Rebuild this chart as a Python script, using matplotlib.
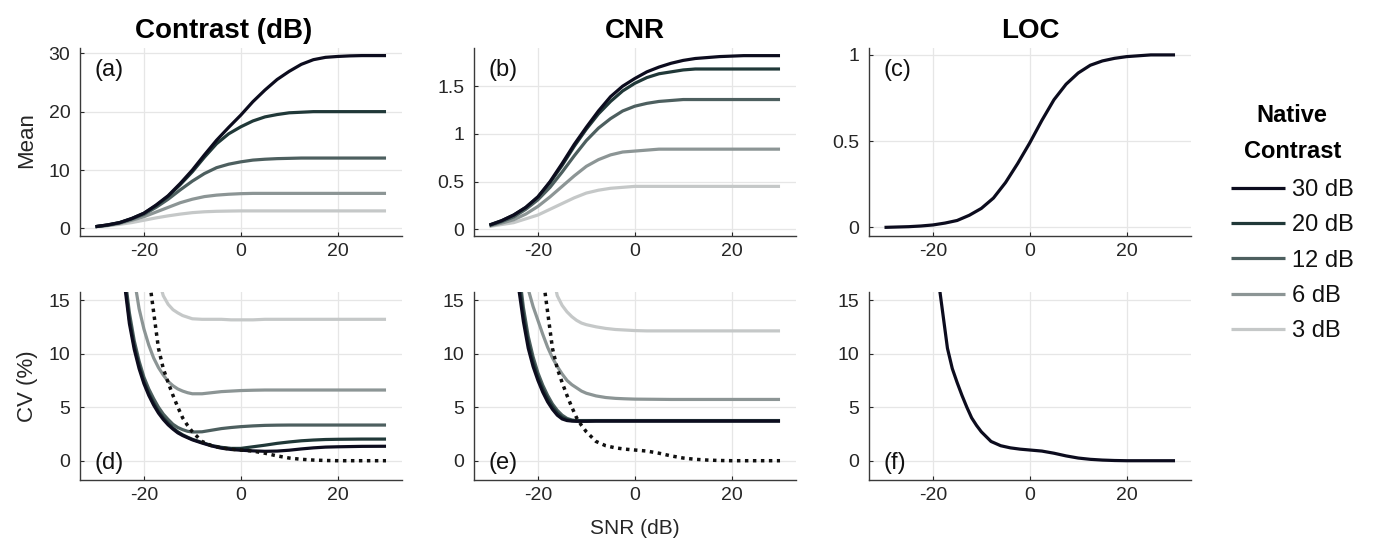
import matplotlib
matplotlib.use("Agg")
import matplotlib.pyplot as plt
import numpy as np

plt.rcParams['font.family'] = ['Liberation Sans', 'DejaVu Sans']
plt.rcParams['axes.unicode_minus'] = False

# ---- data ----
native_labels = ['30 dB', '20 dB', '12 dB', '6 dB', '3 dB']
native_colors = ['#0c0c1e', '#203838', '#4d5f5f', '#8c9595', '#c5c8c8']

snr_mean = [-30, -27.5, -25, -22.5, -20, -17.5, -15, -12.5, -10, -7.5, -5, -2.5, 0,
            2.5, 5, 7.5, 10, 12.5, 15, 17.5, 20, 22.5, 25, 27.5, 30]

contrast_30 = [0.3, 0.6, 1.0, 1.7, 2.6, 4.0, 5.6, 7.7, 10.0, 12.6, 15.1, 17.3, 19.4,
               21.7, 23.7, 25.5, 26.9, 28.1, 28.9, 29.3, 29.45, 29.55, 29.6, 29.6, 29.6]
contrast_20 = [0.3, 0.6, 1.0, 1.7, 2.6, 3.9, 5.5, 7.5, 9.7, 12.2, 14.5, 16.2, 17.4,
               18.4, 19.1, 19.5, 19.8, 19.9, 20.0, 20.0, 20.0, 20.0, 20.0, 20.0, 20.0]
contrast_12 = [0.3, 0.55, 0.95, 1.6, 2.4, 3.6, 5.0, 6.6, 8.1, 9.4, 10.4, 11.0, 11.4,
               11.7, 11.85, 11.95, 12.0, 12.05, 12.05, 12.05, 12.05, 12.05, 12.05, 12.05, 12.05]
contrast_6 = [0.3, 0.5, 0.85, 1.4, 2.0, 2.8, 3.6, 4.4, 5.0, 5.45, 5.7, 5.85, 5.95,
              6.0, 6.0, 6.0, 6.0, 6.0, 6.0, 6.0, 6.0, 6.0, 6.0, 6.0, 6.0]
contrast_3 = [0.3, 0.45, 0.7, 1.0, 1.4, 1.8, 2.15, 2.45, 2.7, 2.85, 2.93, 2.97, 3.0,
              3.0, 3.0, 3.0, 3.0, 3.0, 3.0, 3.0, 3.0, 3.0, 3.0, 3.0, 3.0]

cnr_30 = [0.045, 0.09, 0.15, 0.23, 0.34, 0.50, 0.69, 0.89, 1.07, 1.24, 1.39, 1.50, 1.58,
          1.65, 1.70, 1.74, 1.77, 1.79, 1.80, 1.81, 1.815, 1.82, 1.82, 1.82, 1.82]
cnr_20 = [0.045, 0.09, 0.15, 0.23, 0.34, 0.49, 0.67, 0.87, 1.05, 1.21, 1.34, 1.45, 1.53,
          1.59, 1.63, 1.65, 1.67, 1.68, 1.68, 1.68, 1.68, 1.68, 1.68, 1.68, 1.68]
cnr_12 = [0.04, 0.08, 0.13, 0.21, 0.31, 0.44, 0.60, 0.77, 0.93, 1.06, 1.16, 1.24, 1.29,
          1.32, 1.34, 1.35, 1.36, 1.36, 1.36, 1.36, 1.36, 1.36, 1.36, 1.36, 1.36]
cnr_6 = [0.035, 0.065, 0.10, 0.16, 0.24, 0.34, 0.45, 0.56, 0.66, 0.73, 0.78, 0.81, 0.82,
         0.83, 0.84, 0.84, 0.84, 0.84, 0.84, 0.84, 0.84, 0.84, 0.84, 0.84, 0.84]
cnr_3 = [0.03, 0.05, 0.07, 0.11, 0.15, 0.21, 0.27, 0.33, 0.38, 0.41, 0.43, 0.44, 0.45,
         0.45, 0.45, 0.45, 0.45, 0.45, 0.45, 0.45, 0.45, 0.45, 0.45, 0.45, 0.45]

loc_mean = [0.0, 0.002, 0.004, 0.008, 0.014, 0.025, 0.04, 0.07, 0.11, 0.17, 0.26, 0.37, 0.49,
            0.62, 0.74, 0.83, 0.895, 0.94, 0.965, 0.98, 0.99, 0.995, 1.0, 1.0, 1.0]

snr_cv = [-25, -24, -23, -22, -21, -20, -19, -18, -17, -16, -15, -14, -13, -12, -11, -10,
          -8, -6, -4, -2, 0, 2.5, 5, 7.5, 10, 12.5, 15, 17.5, 20, 25, 30]

cv_contrast_30 = [21, 16.5, 12.8, 10.4, 8.6, 7.2, 6.1, 5.2, 4.45, 3.85, 3.35, 2.95, 2.6, 2.35, 2.15, 1.95,
                  1.65, 1.38, 1.17, 1.05, 0.98, 0.92, 0.88, 0.9, 0.98, 1.1, 1.2, 1.27, 1.3, 1.34, 1.35]
cv_contrast_20 = [22, 17, 13.2, 10.7, 8.9, 7.4, 6.3, 5.4, 4.6, 4.0, 3.5, 3.05, 2.7, 2.42, 2.2, 2.0,
                  1.7, 1.42, 1.25, 1.15, 1.15, 1.3, 1.45, 1.62, 1.75, 1.86, 1.93, 1.98, 2.0, 2.02, 2.02]
cv_contrast_12 = [23, 17.5, 13.8, 11.2, 9.3, 7.8, 6.7, 5.8, 5.0, 4.35, 3.85, 3.4, 3.1, 2.9, 2.75, 2.68,
                  2.7, 2.85, 3.0, 3.1, 3.18, 3.25, 3.3, 3.32, 3.33, 3.33, 3.33, 3.33, 3.33, 3.33, 3.33]
cv_contrast_6 = [28, 23, 19.5, 17, 14.2, 12.3, 10.8, 9.6, 8.7, 8.0, 7.4, 7.0, 6.7, 6.5, 6.35, 6.25,
                 6.25, 6.35, 6.45, 6.5, 6.55, 6.58, 6.6, 6.6, 6.6, 6.6, 6.6, 6.6, 6.6, 6.6, 6.6]
cv_contrast_3 = [40, 35, 30, 26, 23, 21, 19.5, 18.5, 17.0, 15.4, 14.6, 14.1, 13.8, 13.55, 13.4, 13.25,
                 13.2, 13.2, 13.2, 13.15, 13.15, 13.15, 13.2, 13.2, 13.2, 13.2, 13.2, 13.2, 13.2, 13.2, 13.2]

cv_cnr_30 = [21, 16.2, 13.0, 10.5, 8.8, 7.5, 6.4, 5.5, 4.8, 4.25, 3.9, 3.75, 3.7, 3.68, 3.68, 3.68,
             3.7, 3.7, 3.7, 3.7, 3.7, 3.7, 3.7, 3.7, 3.7, 3.7, 3.7, 3.7, 3.7, 3.7, 3.7]
cv_cnr_20 = [22, 17, 13.6, 11.0, 9.2, 7.8, 6.7, 5.8, 5.05, 4.45, 4.05, 3.85, 3.75, 3.72, 3.72, 3.72,
             3.72, 3.72, 3.72, 3.72, 3.72, 3.72, 3.72, 3.72, 3.72, 3.72, 3.72, 3.72, 3.72, 3.72, 3.72]
cv_cnr_12 = [23, 18, 14.3, 11.6, 9.7, 8.2, 7.05, 6.1, 5.3, 4.7, 4.25, 3.95, 3.8, 3.75, 3.75, 3.75,
             3.75, 3.75, 3.75, 3.75, 3.75, 3.75, 3.75, 3.75, 3.75, 3.75, 3.75, 3.75, 3.75, 3.75, 3.75]
cv_cnr_6 = [28, 23, 19, 16, 14.4, 13.1, 11.8, 10.6, 9.6, 8.8, 8.1, 7.5, 7.1, 6.8, 6.5, 6.3,
            6.05, 5.9, 5.82, 5.78, 5.75, 5.74, 5.73, 5.72, 5.72, 5.72, 5.72, 5.72, 5.72, 5.72, 5.72]
cv_cnr_3 = [40, 35, 30, 26, 23, 21, 19.5, 18.5, 17.5, 15.4, 14.5, 13.9, 13.45, 13.1, 12.85, 12.7,
            12.5, 12.35, 12.25, 12.2, 12.15, 12.12, 12.12, 12.12, 12.12, 12.12, 12.12, 12.12, 12.12, 12.12, 12.12]

cv_loc = [45, 38, 32, 27, 23, 20, 17.3, 13.9, 10.5, 8.6, 7.3, 6.1, 5.0, 4.0, 3.3, 2.7,
          1.8, 1.4, 1.2, 1.08, 1.0, 0.9, 0.7, 0.45, 0.25, 0.13, 0.06, 0.02, 0.0, 0.0, 0.0]

contrast_means = [contrast_30, contrast_20, contrast_12, contrast_6, contrast_3]
cnr_means = [cnr_30, cnr_20, cnr_12, cnr_6, cnr_3]
contrast_cvs = [cv_contrast_30, cv_contrast_20, cv_contrast_12, cv_contrast_6, cv_contrast_3]
cnr_cvs = [cv_cnr_30, cv_cnr_20, cv_cnr_12, cv_cnr_6, cv_cnr_3]

# ---- layout ----
W, H = 1374, 548
fig = plt.figure(figsize=(W / 100, H / 100), dpi=100)

col_left = [80, 474, 869]
ax_w = 322
row_top = [48, 292]
ax_h = 188

def make_ax(col, row):
  l = col_left[col] / W
  b = 1 - (row_top[row] + ax_h) / H
  return fig.add_axes([l, b, ax_w / W, ax_h / H])

axes = [[make_ax(c, r) for c in range(3)] for r in range(2)]

LW = 2.3
tick_color = '#262626'

def style(ax, ylim, yticks, ylabels, letter):
  ax.set_xlim(-33.2, 33.3)
  ax.set_ylim(*ylim)
  ax.set_xticks([-20, 0, 20])
  ax.set_yticks(yticks)
  ax.set_yticklabels(ylabels)
  ax.grid(True, color='#e6e6e6', lw=0.9)
  ax.set_axisbelow(True)
  for s in ['top', 'right']:
    ax.spines[s].set_visible(False)
  for s in ['left', 'bottom']:
    ax.spines[s].set_color('#3a3a3a')
    ax.spines[s].set_linewidth(1.0)
  ax.tick_params(direction='in', length=3, width=0.8, colors=tick_color, labelsize=14)
  ax.tick_params(axis='x', pad=5)
  ax.tick_params(axis='y', pad=7)
  ax.text(0.045, 0.885 if letter in 'abc' else 0.09, '(' + letter + ')',
          transform=ax.transAxes, fontsize=17, ha='left', va='center', color='#111111')

cv_ticks = [0, 5, 10, 15]
cv_ticklabels = ['0', '5', '10', '15']

# top row: means
ax = axes[0][0]
for ys, col in list(zip(contrast_means, native_colors))[::-1]:
  ax.plot(snr_mean, ys, color=col, lw=LW, solid_capstyle='butt')
style(ax, (-1.3, 30.9), [0, 10, 20, 30], ['0', '10', '20', '30'], 'a')

ax = axes[0][1]
handles = []
for ys, col, lab in list(zip(cnr_means, native_colors, native_labels))[::-1]:
  h, = ax.plot(snr_mean, ys, color=col, lw=LW, label=lab, solid_capstyle='butt')
  handles.append(h)
handles = handles[::-1]
style(ax, (-0.07, 1.9), [0, 0.5, 1, 1.5], ['0', '0.5', '1', '1.5'], 'b')

ax = axes[0][2]
ax.plot(snr_mean, loc_mean, color=native_colors[0], lw=LW, solid_capstyle='butt')
style(ax, (-0.05, 1.04), [0, 0.5, 1], ['0', '0.5', '1'], 'c')

# bottom row: CV
dot_style = dict(color='#111111', lw=2.5, linestyle=(0, (1, 1.3)), dash_capstyle='butt')
ax = axes[1][0]
for ys, col in list(zip(contrast_cvs, native_colors))[::-1]:
  ax.plot(snr_cv, ys, color=col, lw=LW, solid_capstyle='butt')
ax.plot(snr_cv, cv_loc, **dot_style)
style(ax, (-1.8, 15.75), cv_ticks, cv_ticklabels, 'd')

ax = axes[1][1]
for ys, col in list(zip(cnr_cvs, native_colors))[::-1]:
  ax.plot(snr_cv, ys, color=col, lw=LW, solid_capstyle='butt')
ax.plot(snr_cv, cv_loc, **dot_style)
style(ax, (-1.8, 15.75), cv_ticks, cv_ticklabels, 'e')

ax = axes[1][2]
ax.plot(snr_cv, cv_loc, color=native_colors[0], lw=LW, solid_capstyle='butt')
style(ax, (-1.8, 15.75), cv_ticks, cv_ticklabels, 'f')

# titles and labels
for c, title in enumerate(['Contrast (dB)', 'CNR', 'LOC']):
  t = axes[0][c].set_title(title, fontsize=20, fontweight='bold', pad=7)
  if c == 0:
    t.set_x(0.445)

fig.text(27 / W, 1 - 140 / H, 'Mean', rotation=90, ha='center', va='center',
         fontsize=16, color=tick_color)
fig.text(27 / W, 1 - 386 / H, 'CV (%)', rotation=90, ha='center', va='center',
         fontsize=16, color=tick_color)
fig.text(635 / W, 1 - 529 / H, 'SNR (dB)', ha='center', va='center',
         fontsize=15, color=tick_color)

leg = fig.legend(handles, native_labels, loc='upper left',
                 bbox_to_anchor=(1231 / W, 1 - 104 / H), frameon=False,
                 fontsize=17, handlelength=2.3, handletextpad=0.27,
                 labelspacing=0.56, borderpad=0, borderaxespad=0,
                 title='Native\nContrast',
                 title_fontproperties={'weight': 'bold', 'size': 17})
leg.get_title().set_linespacing(1.7)
leg.get_title().set_multialignment('center')
leg._legend_box.sep = 12
for t in leg.get_texts():
  t.set_color('#111111')

fig.savefig('out.png', dpi=100)
